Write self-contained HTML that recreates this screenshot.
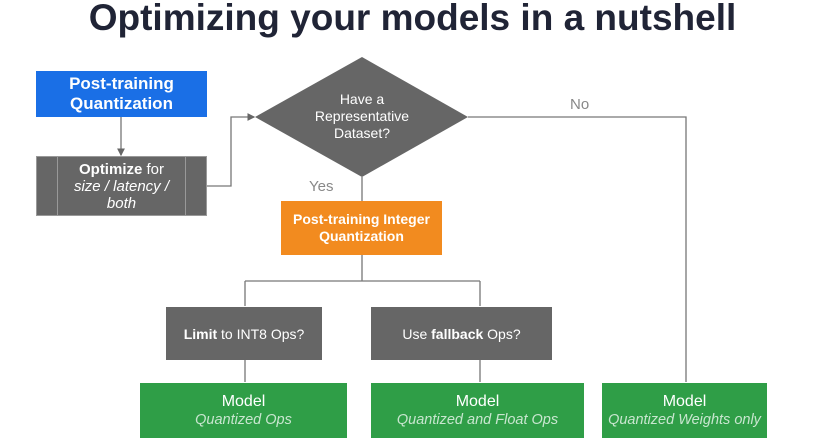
<!DOCTYPE html>
<html><head><style>
body{margin:0;width:825px;height:438px;background:#fff;position:relative;overflow:hidden;font-family:"Liberation Sans",sans-serif}
.t{position:absolute;left:0;width:825px;top:-3px;text-align:center;font-size:37px;font-weight:bold;color:#202436}
.b{position:absolute;display:flex;flex-direction:column;align-items:center;justify-content:center;text-align:center;color:#fff;box-sizing:border-box}
.g{background:#666;}
.gr{background:#2f9e47;font-size:16px;line-height:19px}
.gr i{color:#c8e6cf;font-size:14.5px}
</style></head><body>
<div class="t">Optimizing your models in a nutshell</div>
<svg width="825" height="438" style="position:absolute;left:0;top:0">
<defs><marker id="a" markerWidth="6" markerHeight="6" refX="5" refY="3" orient="auto"><path d="M0,0L6,3L0,6z" fill="#666"/></marker></defs>
<g stroke="#777" stroke-width="1.3" fill="none">
<path d="M121,117V155" marker-end="url(#a)"/>
<path d="M207,186H231V117H254" marker-end="url(#a)"/>
<path d="M362,177V201"/>
<path d="M362,255V281M245,281H480M245,281V306M480,281V306" />
<path d="M245,360V382M480,360V382"/>
<path d="M468,117H686V382"/>
</g>
<polygon points="362,57 468,117 362,177 255,117" fill="#666"/>
<text x="362" y="104" fill="#fff" font-size="14" text-anchor="middle" font-family="Liberation Sans">Have a</text>
<text x="362" y="121" fill="#fff" font-size="14" text-anchor="middle" font-family="Liberation Sans">Representative</text>
<text x="362" y="138" fill="#fff" font-size="14" text-anchor="middle" font-family="Liberation Sans">Dataset?</text>
<text x="309" y="191" fill="#888" font-size="15" font-family="Liberation Sans">Yes</text>
<text x="570" y="109" fill="#888" font-size="15" font-family="Liberation Sans">No</text>
</svg>
<div class="b" style="left:36px;top:71px;width:171px;height:46px;background:#1a6fe6;font-weight:bold;font-size:17px;line-height:20px">Post-training<br>Quantization</div>
<div class="b g" style="left:36px;top:156px;width:171px;height:60px;font-size:15px;line-height:17px;border:1px solid #999">
<div style="position:absolute;left:20px;top:0;bottom:0;width:1px;background:#999"></div>
<div style="position:absolute;right:20px;top:0;bottom:0;width:1px;background:#999"></div>
<span><b>Optimize</b> for</span><i>size / latency /</i><i>both</i></div>
<div class="b" style="left:281px;top:201px;width:161px;height:54px;background:#f28b1f;font-weight:bold;font-size:14px;line-height:17px">Post-training Integer<br>Quantization</div>
<div class="b g" style="left:166px;top:307px;width:156px;height:53px;font-size:14px"><span><b>Limit</b> to INT8 Ops?</span></div>
<div class="b g" style="left:371px;top:307px;width:181px;height:53px;font-size:14px"><span>Use <b>fallback</b> Ops?</span></div>
<div class="b gr" style="left:140px;top:383px;width:207px;height:55px">Model<i>Quantized Ops</i></div>
<div class="b gr" style="left:371px;top:383px;width:213px;height:55px">Model<i>Quantized and Float Ops</i></div>
<div class="b gr" style="left:602px;top:383px;width:165px;height:55px">Model<i>Quantized Weights only</i></div>
</body></html>
